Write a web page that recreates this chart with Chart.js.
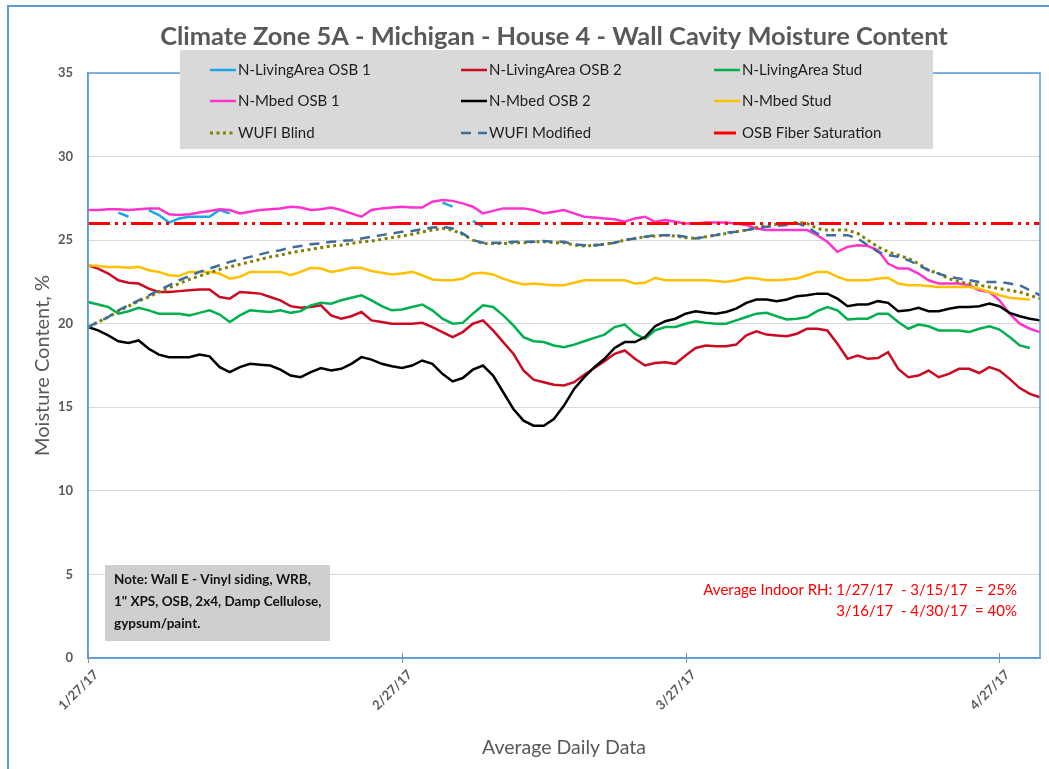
<!DOCTYPE html>
<html>
<head>
<meta charset="utf-8">
<script src="https://cdn.jsdelivr.net/npm/chart.js@4.4.1/dist/chart.umd.min.js"></script>
<style>
  html, body { margin: 0; padding: 0; background: #fff; overflow: hidden; }
  #wrap { position: relative; width: 1049px; height: 769px; }
  #frame { position: absolute; left: 7px; top: 5px; width: 1100px; height: 800px; border: 2px solid #5B9BD5; box-sizing: border-box; pointer-events: none; }
  canvas { position: absolute; left: 0; top: 0; }
</style>
</head>
<body>
<div id="wrap">
  <canvas id="moistureChart" width="1049" height="769"></canvas>
  <div id="frame"></div>
</div>
<script>
// daily readings, 1/27/17 .. 5/1/17
const startDate = new Date(2017, 0, 27);
const dayCount = 95;
const tickLabels = ['1/27/17', '2/27/17', '3/27/17', '4/27/17'];

const livingOsb1 = [null,null,null,26.65,26.4,null,26.8,26.5,26.05,26.3,
  26.4,26.4,26.4,26.8,26.6,null,null,null,null,null,
  null,null,null,null,null,null,null,null,null,null,
  null,null,null,null,null,27.25,27.0,null,26.15,25.8];

const livingOsb2 = [23.5,23.3,23.0,22.6,22.45,22.4,22.1,21.9,21.9,21.95,
  22.0,22.05,22.05,21.6,21.5,21.9,21.85,21.8,21.6,21.4,
  21.05,20.95,21.0,21.1,20.5,20.3,20.45,20.7,20.2,20.1,
  20.0,20.0,20.0,20.05,19.8,19.5,19.2,19.5,20.0,20.2,
  19.6,18.9,18.2,17.2,16.65,16.5,16.35,16.3,16.5,16.95,
  17.35,17.75,18.2,18.4,17.9,17.5,17.65,17.7,17.6,18.1,
  18.55,18.7,18.65,18.65,18.75,19.3,19.55,19.35,19.3,19.25,
  19.4,19.7,19.7,19.6,18.8,17.9,18.1,17.9,17.95,18.3,
  17.3,16.8,16.9,17.2,16.8,17.0,17.3,17.3,17.05,17.4,
  17.2,16.7,16.15,15.8,15.6];

const livingStud = [21.3,21.15,21.0,20.6,20.75,20.95,20.8,20.6,20.6,20.6,
  20.5,20.65,20.8,20.55,20.1,20.5,20.8,20.75,20.7,20.8,
  20.65,20.75,21.1,21.25,21.2,21.4,21.55,21.7,21.4,21.05,
  20.8,20.85,21.0,21.15,20.8,20.3,20.0,20.05,20.6,21.1,
  21.0,20.5,19.9,19.2,18.95,18.9,18.7,18.6,18.75,18.95,
  19.15,19.35,19.8,19.95,19.4,19.1,19.6,19.8,19.8,20.0,
  20.15,20.05,20.0,20.0,20.2,20.4,20.6,20.65,20.45,20.25,
  20.3,20.4,20.75,21.0,20.8,20.25,20.3,20.3,20.6,20.6,
  20.1,19.7,19.95,19.85,19.6,19.6,19.6,19.5,19.7,19.85,
  19.65,19.2,18.7,18.55,null];

const mbedOsb1 = [26.8,26.8,26.85,26.85,26.8,26.85,26.9,26.9,26.55,26.5,
  26.55,26.65,26.75,26.85,26.8,26.6,26.7,26.8,26.85,26.9,
  27.0,26.95,26.8,26.85,26.95,26.8,26.6,26.4,26.8,26.9,
  26.95,27.0,26.95,26.95,27.3,27.4,27.35,27.2,27.0,26.6,
  26.75,26.9,26.9,26.9,26.8,26.6,26.7,26.8,26.6,26.4,
  26.35,26.3,26.25,26.1,26.3,26.4,26.1,26.2,26.1,26.0,
  26.0,26.05,26.05,26.05,26.0,25.9,25.7,25.6,25.6,25.6,
  25.6,25.6,25.3,24.9,24.3,24.6,24.7,24.65,24.4,23.6,
  23.3,23.3,23.0,22.6,22.4,22.4,22.4,22.3,22.0,21.9,
  21.4,20.6,20.0,19.7,19.5];

const mbedOsb2 = [19.8,19.6,19.3,18.95,18.85,19.0,18.5,18.15,18.0,18.0,
  18.0,18.15,18.05,17.4,17.1,17.4,17.6,17.55,17.5,17.25,
  16.9,16.8,17.1,17.35,17.2,17.3,17.6,18.0,17.85,17.6,
  17.45,17.35,17.5,17.8,17.6,17.0,16.55,16.75,17.25,17.5,
  16.9,15.9,14.9,14.2,13.9,13.9,14.3,15.1,16.1,16.8,
  17.4,17.9,18.55,18.9,18.9,19.2,19.85,20.15,20.3,20.6,
  20.75,20.65,20.6,20.7,20.9,21.25,21.45,21.45,21.35,21.45,
  21.65,21.7,21.8,21.8,21.5,21.05,21.15,21.15,21.35,21.25,
  20.75,20.8,20.95,20.75,20.75,20.9,21.0,21.0,21.05,21.2,
  21.05,20.65,20.45,20.3,20.2];

const mbedStud = [23.5,23.45,23.4,23.4,23.35,23.4,23.2,23.1,22.9,22.85,
  23.1,23.1,23.1,23.0,22.7,22.8,23.1,23.1,23.1,23.1,
  22.9,23.1,23.35,23.3,23.1,23.2,23.35,23.35,23.15,23.05,
  22.95,23.0,23.1,22.9,22.65,22.6,22.6,22.7,23.0,23.05,
  22.95,22.7,22.5,22.35,22.4,22.35,22.3,22.3,22.45,22.6,
  22.6,22.6,22.6,22.6,22.4,22.45,22.75,22.6,22.6,22.6,
  22.6,22.6,22.55,22.5,22.6,22.75,22.7,22.6,22.6,22.65,
  22.7,22.9,23.1,23.1,22.8,22.6,22.6,22.6,22.7,22.75,
  22.4,22.3,22.3,22.25,22.2,22.2,22.2,22.2,22.1,21.9,
  21.7,21.55,21.5,21.45,null];

const wufiBlind = [19.8,20.1,20.4,20.75,21.05,21.35,21.6,21.9,22.15,22.4,
  22.65,22.85,23.05,23.25,23.4,23.55,23.7,23.85,24.0,24.1,
  24.25,24.35,24.45,24.55,24.65,24.7,24.8,24.9,24.95,25.05,
  25.15,25.25,25.35,25.5,25.6,25.7,25.6,25.35,25.0,24.8,
  24.8,24.8,24.85,24.85,24.9,24.9,24.85,24.85,24.7,24.65,
  24.7,24.75,24.85,25.0,25.1,25.2,25.25,25.3,25.25,25.15,
  25.1,25.2,25.3,25.4,25.5,25.6,25.75,25.85,25.95,26.0,
  26.05,26.0,25.7,25.6,25.6,25.6,25.4,25.0,24.6,24.3,
  24.1,23.9,23.6,23.2,23.0,22.7,22.5,22.4,22.3,22.2,
  22.1,22.0,21.9,21.7,21.5];

const wufiModified = [19.8,20.1,20.4,20.8,21.1,21.4,21.7,22.0,22.3,22.6,
  22.85,23.1,23.3,23.5,23.7,23.85,24.0,24.15,24.3,24.4,
  24.55,24.65,24.75,24.8,24.9,24.95,25.0,25.1,25.2,25.3,
  25.4,25.5,25.55,25.65,25.75,25.8,25.7,25.4,25.0,24.85,
  24.85,24.85,24.9,24.9,24.9,24.95,24.9,24.9,24.75,24.7,
  24.7,24.75,24.85,25.0,25.1,25.2,25.3,25.3,25.3,25.2,
  25.1,25.2,25.3,25.45,25.5,25.6,25.7,25.8,25.85,25.9,
  26.0,25.8,25.4,25.3,25.3,25.3,25.1,24.7,24.3,24.1,
  24.0,23.8,23.5,23.2,23.0,22.8,22.7,22.6,22.5,22.5,
  22.5,22.4,22.3,22.0,21.7];

const fiberSaturation = 26;

const labels = [];
for (let i = 0; i < dayCount; i++) {
  const d = new Date(startDate.getTime() + i * 86400000);
  labels.push(`${d.getMonth() + 1}/${d.getDate()}/${String(d.getFullYear()).slice(2)}`);
}

const font = 'Lato, "Open Sans", sans-serif';
const gray = '#595959';

function line(label, data, color, width, dash) {
  return { label, data, borderColor: color, backgroundColor: color, borderWidth: width,
    borderDash: dash || [], pointRadius: 0, tension: 0, fill: false };
}

const datasets = [
  line('N-LivingArea OSB 1', livingOsb1, '#19A8E4', 2.5),
  line('N-LivingArea OSB 2', livingOsb2, '#CC0A24', 2.5),
  line('N-LivingArea Stud', livingStud, '#00B050', 2.5),
  line('N-Mbed OSB 1', mbedOsb1, '#FF33CC', 2.5),
  line('N-Mbed OSB 2', mbedOsb2, '#000000', 2.5),
  line('N-Mbed Stud', mbedStud, '#FFC000', 2.5),
  line('WUFI Blind', wufiBlind, '#808000', 3, [3, 3.5]),
  line('WUFI Modified', wufiModified, '#3F6C9A', 2.5, [10, 7]),
  line('OSB Fiber Saturation',
    [{ x: labels[0], y: fiberSaturation }, { x: labels[dayCount - 1], y: fiberSaturation }],
    '#FF0000', 3, [22, 5, 3, 5, 3, 5])
];
// excel draws later series on top
datasets.forEach((ds, i) => { ds.order = datasets.length - i; });

const noteLines = ['Note: Wall E - Vinyl siding, WRB,', '1" XPS, OSB, 2x4, Damp Cellulose,', 'gypsum/paint.'];
const rhLines = ['Average Indoor RH: 1/27/17  - 3/15/17  = 25%', '3/16/17  - 4/30/17  = 40%'];

const overlay = {
  id: 'overlay',
  afterDraw(chart) {
    const ctx = chart.ctx;
    const a = chart.chartArea;
    ctx.save();

    // plot border
    ctx.strokeStyle = '#5B9BD5';
    ctx.lineWidth = 1.5;
    ctx.strokeRect(a.left, a.top, a.right - a.left, a.bottom - a.top);

    // crossing tick marks on the date axis
    const xs = chart.scales.x;
    ctx.strokeStyle = '#8C8C8C';
    ctx.lineWidth = 1;
    tickLabels.forEach(t => {
      const px = Math.round(xs.getPixelForValue(labels.indexOf(t))) + 0.5;
      ctx.beginPath(); ctx.moveTo(px, a.bottom - 5); ctx.lineTo(px, a.bottom + 5); ctx.stroke();
    });

    // title, sized to the reference width
    const title = 'Climate Zone 5A - Michigan - House 4 - Wall Cavity Moisture Content';
    ctx.font = `bold 24px ${font}`;
    const size = Math.min(28, 24 * 788 / ctx.measureText(title).width);
    ctx.font = `bold ${size}px ${font}`;
    ctx.fillStyle = gray;
    ctx.textAlign = 'center';
    ctx.textBaseline = 'middle';
    ctx.fillText(title, 554, 37);

    // legend box
    ctx.fillStyle = '#D9D9D9';
    ctx.fillRect(180, 50, 753, 99);
    const colX = [210, 461, 714];
    const rowY = [70, 101, 133];
    ctx.textAlign = 'left';
    chart.data.datasets.forEach((ds, i) => {
      const x = colX[i % 3], y = rowY[Math.floor(i / 3)];
      ctx.strokeStyle = ds.borderColor;
      ctx.lineWidth = ds.borderWidth;
      ctx.setLineDash(ds.borderDash);
      ctx.beginPath(); ctx.moveTo(x, y); ctx.lineTo(x + 26, y); ctx.stroke();
      ctx.setLineDash([]);
      ctx.fillStyle = '#1E1E1E';
      ctx.font = `15px ${font}`;
      ctx.fillText(ds.label, x + 28, y);
    });

    // note box
    ctx.fillStyle = '#CFCFCF';
    ctx.fillRect(105, 565, 225, 76);
    ctx.fillStyle = '#111';
    ctx.font = `bold 13.5px ${font}`;
    noteLines.forEach((t, i) => ctx.fillText(t, 114, 580 + i * 22));

    // indoor RH note
    ctx.fillStyle = '#FF0000';
    ctx.font = `15px ${font}`;
    ctx.textAlign = 'right';
    rhLines.forEach((t, i) => ctx.fillText(t, 1017, 590 + i * 21));

    ctx.restore();
  }
};

new Chart(document.getElementById('moistureChart'), {
  type: 'line',
  data: { labels, datasets },
  plugins: [overlay],
  options: {
    responsive: false,
    animation: false,
    devicePixelRatio: 1,
    layout: { padding: { left: 20, top: 73, right: 9, bottom: 10 } },
    plugins: { legend: { display: false }, tooltip: { enabled: false } },
    scales: {
      x: {
        type: 'category',
        grid: { display: false, drawTicks: false },
        border: { color: '#5B9BD5', width: 1.5 },
        ticks: {
          autoSkip: false, minRotation: 45, maxRotation: 45, padding: 9, labelOffset: 8,
          color: gray, font: { family: font, size: 13, weight: 'bold' },
          callback: (v, i) => tickLabels.includes(labels[i]) ? labels[i] : ''
        },
        title: { display: true, text: 'Average Daily Data', color: gray,
          font: { family: font, size: 19.5 }, padding: { top: 0, bottom: 0 } },
        afterFit: s => { s.height = 101; s.paddingLeft = 0; s.paddingRight = 0; }
      },
      y: {
        min: 0, max: 35,
        grid: { color: '#D9D9D9', drawTicks: false },
        border: { color: '#5B9BD5', width: 1.5 },
        ticks: { stepSize: 5, padding: 15, color: gray, font: { family: font, size: 13, weight: 'bold' } },
        title: { display: true, text: 'Moisture Content, %', color: gray,
          font: { family: font, size: 20 }, padding: { top: 11, bottom: 0 } },
        afterFit: s => { s.width = 68; }
      }
    }
  }
});
</script>
</body>
</html>
